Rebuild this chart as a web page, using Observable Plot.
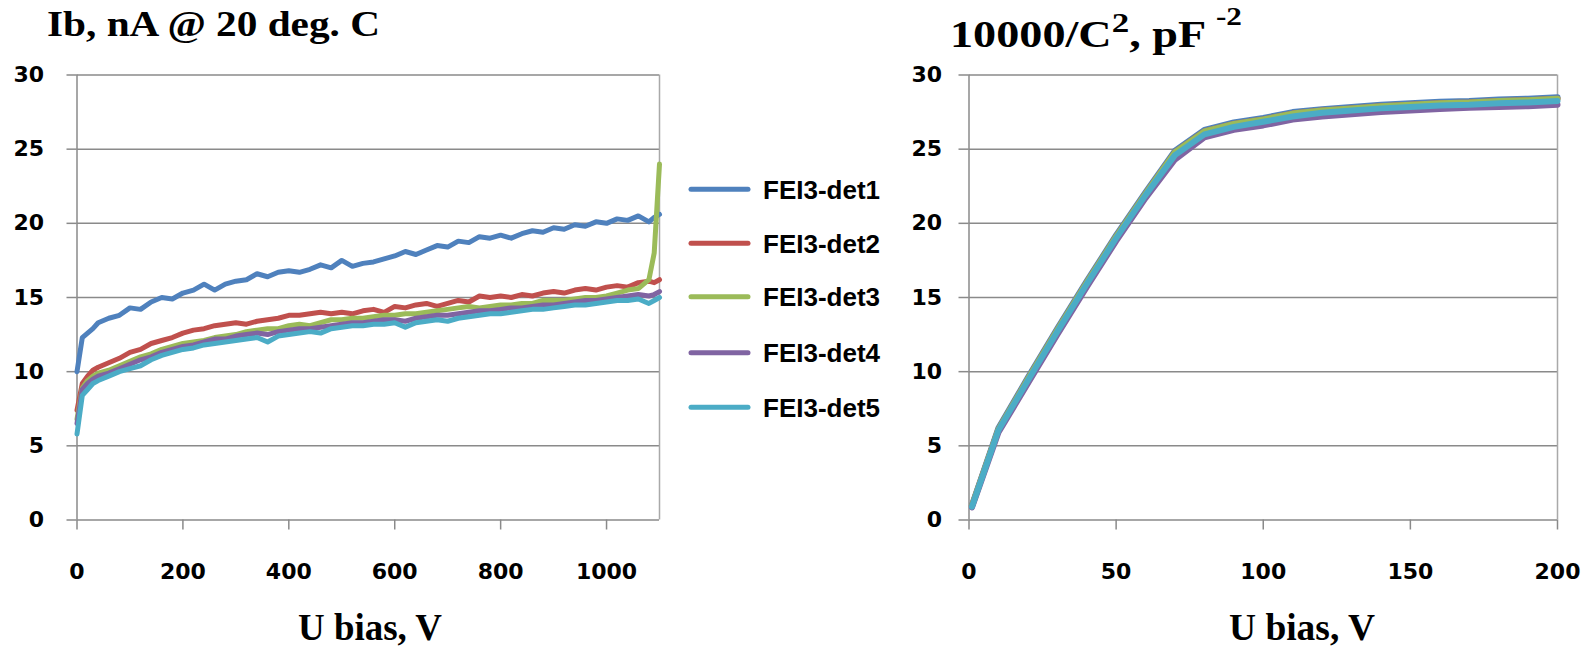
<!DOCTYPE html>
<html>
<head>
<meta charset="utf-8">
<script src="https://cdn.jsdelivr.net/npm/d3@7"></script>
<script src="https://cdn.jsdelivr.net/npm/@observablehq/plot@0.6"></script>
<style>
  html, body { margin: 0; padding: 0; background: #fff; }
  #wrap { position: relative; width: 1595px; height: 649px; overflow: hidden; background: #fff; }
  #wrap > svg { position: absolute; top: 0; }
  #overlay { position: absolute; left: 0; top: 0; pointer-events: none; }
</style>
</head>
<body>
<div id="wrap"></div>
<script>
// ---------- data: left chart (leakage current vs bias) ----------
const seriesNames = ["FEI3-det1", "FEI3-det2", "FEI3-det3", "FEI3-det4", "FEI3-det5"];
const seriesColors = ["#4F81BD", "#C0504D", "#9BBB59", "#8064A2", "#4BACC6"];

const uBias = [0,10,20,30,40, 60,80,100,120,140,160,180,200, 220,240,260,280,300,320,340,360,380,400,
  420,440,460,480,500,520,540,560,580,600, 620,640,660,680,700,720,740,760,780,800,
  820,840,860,880,900,920,940,960,980,1000, 1020,1040,1060,1080,1090,1100];

const det1 = [10.0,12.3,12.6,12.9,13.3, 13.6,13.8,14.3,14.2,14.7,15.0,14.9,15.3,
  15.5,15.9,15.5,15.9,16.1,16.2,16.6,16.4,16.7,16.8, 16.7,16.9,17.2,17.0,17.5,17.1,17.3,17.4,17.6,17.8,
  18.1,17.9,18.2,18.5,18.4,18.8,18.7,19.1,19.0,19.2, 19.0,19.3,19.5,19.4,19.7,19.6,19.9,19.8,20.1,20.0,
  20.3,20.2,20.5,20.1,20.4,20.6];
const det2 = [7.4,9.2,9.7,10.1,10.3, 10.6,10.9,11.3,11.5,11.9,12.1,12.3,12.6,
  12.8,12.9,13.1,13.2,13.3,13.2,13.4,13.5,13.6,13.8, 13.8,13.9,14.0,13.9,14.0,13.9,14.1,14.2,14.0,14.4,
  14.3,14.5,14.6,14.4,14.6,14.8,14.7,15.1,15.0,15.1, 15.0,15.2,15.1,15.3,15.4,15.3,15.5,15.6,15.5,15.7,
  15.8,15.7,16.0,16.1,16.0,16.2];
const det3 = [6.8,8.9,9.4,9.7,9.9, 10.1,10.4,10.7,11.0,11.2,11.5,11.7,11.9,
  12.0,12.1,12.3,12.4,12.5,12.7,12.8,12.9,12.9,13.1, 13.2,13.1,13.3,13.5,13.5,13.6,13.6,13.7,13.8,13.8,
  13.9,13.9,14.0,14.1,14.2,14.3,14.4,14.3,14.4,14.5, 14.5,14.6,14.6,14.8,14.8,14.8,14.9,15.0,15.0,15.1,
  15.3,15.5,15.6,16.2,18.0,24.0];
const det4 = [6.5,8.8,9.2,9.5,9.7, 9.9,10.2,10.5,10.8,11.0,11.3,11.5,11.7,
  11.8,12.0,12.2,12.2,12.4,12.5,12.6,12.5,12.7,12.8, 12.9,12.9,13.0,13.1,13.2,13.3,13.3,13.4,13.5,13.5,
  13.4,13.6,13.7,13.8,13.8,13.9,14.0,14.1,14.1,14.2, 14.3,14.3,14.4,14.5,14.5,14.6,14.7,14.8,14.8,14.9,
  15.0,15.1,15.2,15.1,15.2,15.4];
const det5 = [5.8,8.4,8.8,9.2,9.4, 9.7,10.0,10.2,10.4,10.8,11.1,11.3,11.5,
  11.6,11.8,11.9,12.0,12.1,12.2,12.3,12.0,12.4,12.5, 12.6,12.7,12.6,12.9,13.0,13.1,13.1,13.2,13.2,13.3,
  13.0,13.3,13.4,13.5,13.4,13.6,13.7,13.8,13.9,13.9, 14.0,14.1,14.2,14.2,14.3,14.4,14.5,14.5,14.6,14.7,
  14.8,14.8,14.9,14.6,14.8,15.0];

// ---------- data: right chart (10000/C^2 vs bias) ----------
const uBiasCV = [1,10,20,30,40,50,60,70,80,90,100,110,120,130,140,150,160,170,180,190,200];
const cv1 = [1.0,6.2,9.6,12.9,16.1,19.2,22.1,24.9,26.3,26.8,27.1,27.5,27.7,27.85,28.0,28.1,28.2,28.25,28.35,28.4,28.5];
const cv2 = [0.95,6.1,9.5,12.8,16.0,19.1,22.0,24.8,26.2,26.7,27.0,27.4,27.6,27.75,27.9,28.0,28.1,28.15,28.25,28.3,28.4];
const cv3 = [0.95,6.1,9.5,12.8,16.0,19.1,22.0,24.8,26.2,26.7,27.0,27.4,27.6,27.75,27.9,28.0,28.1,28.15,28.25,28.3,28.4];
const cv4 = [0.85,5.9,9.2,12.5,15.7,18.8,21.7,24.3,25.8,26.3,26.6,27.0,27.2,27.35,27.5,27.6,27.7,27.8,27.85,27.9,28.0];
const cv5 = [0.9,6.05,9.4,12.7,15.9,19.0,21.9,24.6,26.0,26.5,26.85,27.2,27.45,27.6,27.75,27.85,27.95,28.0,28.1,28.15,28.25];

// ---------- ticks ----------
const yTicks = [0, 5, 10, 15, 20, 25, 30];
const xTicksLeft = [0, 200, 400, 600, 800, 1000];
const xTicksRight = [0, 50, 100, 150, 200];

// ---------- texts ----------
const leftTitle = "Ib, nA @ 20 deg. C";
const xLabel = "U bias, V";

// tidy tables
const ivSeries = [det1, det2, det3, det4, det5];
const cvSeries = [cv1, cv2, cv3, cv4, cv5];
const ivData = ivSeries.flatMap((arr, s) => arr.map((v, i) => ({det: seriesNames[s], u: uBias[i], v})));
const cvData = cvSeries.flatMap((arr, s) => arr.map((v, i) => ({det: seriesNames[s], u: uBiasCV[i], v})));

const grid = "#8a8a8a";
const border = "#a9a9a9";
const tickFont = {fontFamily: "DejaVu Sans", fontSize: 22, fontWeight: "bold", fill: "black", tickFormat: d => String(d)};
const baseStyle = {fontFamily: "DejaVu Sans", fontSize: "22px", fontWeight: "bold", color: "black", background: "transparent", overflow: "visible"};

function chart({width, mLeft, mRight, xDomain, xTicks, data, yPad, sw}) {
  return Plot.plot({
    width, height: 600,
    marginLeft: mLeft, marginRight: mRight, marginTop: 74.5, marginBottom: 80.5,
    x: {domain: xDomain},
    y: {domain: [0, 30]},
    color: {domain: seriesNames, range: seriesColors},
    style: baseStyle,
    marks: [
      Plot.ruleY(yTicks, {stroke: grid, strokeWidth: 1.5}),
      Plot.ruleX([xDomain[1]], {stroke: border, strokeWidth: 1.5}),
      Plot.ruleX([0], {stroke: grid, strokeWidth: 1.5}),
      Plot.axisY(yTicks, {tickSize: 10, tickPadding: yPad, stroke: grid, strokeWidth: 1.5, label: null, ...tickFont}),
      Plot.axisX(xTicks, {tickSize: 10, tickPadding: 33, stroke: grid, strokeWidth: 1.5, label: null, ...tickFont}),
      Plot.line(data, {x: "u", y: "v", z: "det", stroke: "det", strokeWidth: sw, strokeLinejoin: "round", strokeLinecap: "round"})
    ]
  });
}

const wrap = document.getElementById("wrap");
const left = chart({width: 680, mLeft: 76.5, mRight: 21, xDomain: [0, 1100], xTicks: xTicksLeft, data: ivData, yPad: 23, sw: 5});
left.style.left = "0px";
wrap.appendChild(left);
const right = chart({width: 695, mLeft: 68.5, mRight: 38, xDomain: [0, 200], xTicks: xTicksRight, data: cvData, yPad: 17, sw: 6});
right.style.left = "900px";
wrap.appendChild(right);

// ---------- overlay: titles, axis titles, legend ----------
const NS = "http://www.w3.org/2000/svg";
const ov = document.createElementNS(NS, "svg");
ov.setAttribute("id", "overlay");
ov.setAttribute("width", 1595);
ov.setAttribute("height", 649);
function txt(parent, x, y, s, attrs) {
  const t = document.createElementNS(NS, "text");
  t.setAttribute("x", x); t.setAttribute("y", y);
  for (const k in attrs) t.setAttribute(k, attrs[k]);
  if (s != null) t.textContent = s;
  parent.appendChild(t);
  return t;
}
const serif = {"font-family": "Liberation Serif, Times New Roman, serif", "font-weight": "bold", fill: "black"};
txt(ov, 47, 36, leftTitle, {...serif, "font-size": 36, textLength: 333, lengthAdjust: "spacingAndGlyphs"});

const rt = txt(ov, 950, 47, null, {...serif, "font-size": 37, textLength: 292, lengthAdjust: "spacingAndGlyphs"});
function tsp(parent, s, attrs) {
  const t = document.createElementNS(NS, "tspan");
  for (const k in attrs) t.setAttribute(k, attrs[k]);
  t.textContent = s; parent.appendChild(t); return t;
}
tsp(rt, "10000/C", {});
tsp(rt, "2", {dy: -15, "font-size": 28});
tsp(rt, ", pF ", {dy: 15});
tsp(rt, "-2", {dy: -22, "font-size": 25});

txt(ov, 370, 640, xLabel, {...serif, "font-size": 38, "text-anchor": "middle", textLength: 144, lengthAdjust: "spacingAndGlyphs"});
txt(ov, 1302, 640, xLabel, {...serif, "font-size": 38, "text-anchor": "middle", textLength: 146, lengthAdjust: "spacingAndGlyphs"});

const legendY = [189.3, 243.3, 296.7, 352.7, 407.3];
seriesNames.forEach((name, i) => {
  const l = document.createElementNS(NS, "line");
  l.setAttribute("x1", 691); l.setAttribute("x2", 748);
  l.setAttribute("y1", legendY[i]); l.setAttribute("y2", legendY[i]);
  l.setAttribute("stroke", seriesColors[i]); l.setAttribute("stroke-width", 5);
  l.setAttribute("stroke-linecap", "round");
  ov.appendChild(l);
  txt(ov, 763, legendY[i], name, {"font-family": "Liberation Sans, Arial, sans-serif", "font-weight": "bold", "font-size": 26, dy: "0.36em", fill: "black"});
});
wrap.appendChild(ov);
</script>
</body>
</html>
